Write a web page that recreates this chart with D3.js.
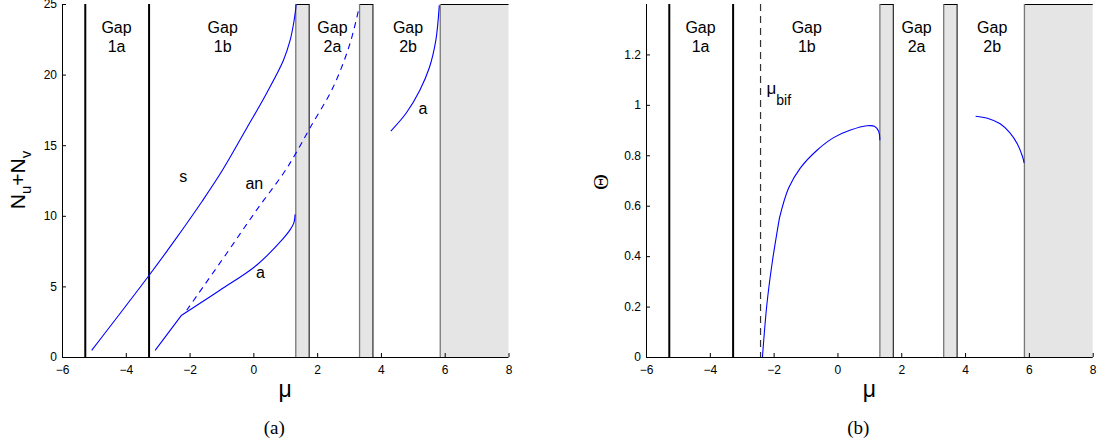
<!DOCTYPE html>
<html><head><meta charset="utf-8">
<script src="https://cdn.jsdelivr.net/npm/d3@7"></script>
<style>
body{margin:0;background:#fff}
text{font-family:"Liberation Sans",Arial,sans-serif;fill:#000}
</style></head>
<body><svg id="c" width="1099" height="444"></svg>
<script>
// ---------- data ----------
const xTicks = [-6,-4,-2,0,2,4,6,8];
const yTicksA = [0,5,10,15,20,25];
const yTicksB = [0,0.2,0.4,0.6,0.8,1,1.2];
const gapLines = [-5.27,-3.27];          // black boundaries of gaps 1a/1b
const bands = [[1.33,1.75],[3.33,3.75],[5.86,8]];   // shaded bands
const muBif = -2.41;
const gapNames = [["Gap","1a"],["Gap","1b"],["Gap","2a"],["Gap","2b"]];
const gapLabelMu = [-4.29,-0.96,2.48,4.85];

// panel (a): N_u+N_v vs mu
const muS  = [-5.07,-3.29,-2.5,-1.6,-0.99,-0.21,0.42,0.94,1.15,1.26,1.32,1.34];
const nS   = [0.47,5.72,8.15,11.05,13.15,16.2,18.7,21.0,22.4,23.6,24.5,24.95];
const muA  = [-3.08,-2.25,-1.05,0.10,0.94,1.15,1.27,1.31];
const nA   = [0.47,2.96,4.73,6.5,8.4,9.0,9.5,10.1];
const kinkA = 1;   // index of the corner on branch a
const muAN = [-2.09,-0.84,0.10,0.94,1.30,1.77,2.5,3.03,3.32];
const nAN  = [3.31,7.33,10.4,13.0,14.3,16.2,19.1,22.2,24.8];
const muA2 = [4.31,4.80,5.22,5.52,5.72,5.83];
const nA2  = [16.0,17.3,18.9,20.5,22.4,24.9];
const curveLabelsA = [{t:"s",mu:-2.2,v:12.4},{t:"an",mu:0.03,v:11.9},{t:"a",mu:0.22,v:5.6},{t:"a",mu:5.32,v:17.2}];

// panel (b): Theta vs mu
const muT  = [-2.35,-2.21,-2.05,-1.82,-1.53,-1.16,-0.64,-0.12,0.41,0.93,1.16,1.29,1.33];
const thT  = [0,0.21,0.37,0.55,0.67,0.75,0.82,0.87,0.90,0.917,0.915,0.895,0.86];
const kinkT = 3;
const muT2 = [4.33,4.7,5.1,5.4,5.64,5.8,5.85];
const thT2 = [0.955,0.947,0.925,0.89,0.845,0.795,0.77];

// ---------- drawing ----------
const svg = d3.select("#c");
const yTop = 4, yBot = 357;
const minus = s => String(s).replace("-", "\u2212");

function panel(x0, x1, yDom, yTicks) {
  const g = svg.append("g");
  const x = d3.scaleLinear().domain([-6,8]).range([x0,x1]);
  const y = d3.scaleLinear().domain(yDom).range([yBot,yTop]);
  bands.forEach(b => {
    g.append("rect").attr("x", x(b[0])).attr("y", yTop).attr("width", x(b[1])-x(b[0])).attr("height", yBot-yTop)
      .attr("fill","#e5e5e5");
    g.append("line").attr("x1",x(b[0])).attr("x2",x(b[1])).attr("y1",yTop+0.5).attr("y2",yTop+0.5).attr("stroke","#000");
    g.append("line").attr("x1",x(b[0])).attr("x2",x(b[0])).attr("y1",yTop).attr("y2",yBot).attr("stroke","#777").attr("stroke-width",1.3);
    if (b[1] < 8) g.append("line").attr("x1",x(b[1])).attr("x2",x(b[1])).attr("y1",yTop).attr("y2",yBot).attr("stroke","#000");
  });
  gapLines.forEach(m => g.append("line").attr("x1",x(m)).attr("x2",x(m)).attr("y1",yTop).attr("y2",yBot)
    .attr("stroke","#000").attr("stroke-width",2));
  const ax = g.append("g").attr("transform",`translate(0,${yBot})`)
    .call(d3.axisBottom(x).tickValues(xTicks).tickSizeInner(-4).tickSizeOuter(0).tickPadding(8).tickFormat(minus));
  const ay = g.append("g").attr("transform",`translate(${x0},0)`)
    .call(d3.axisLeft(y).tickValues(yTicks).tickSizeInner(-4).tickSizeOuter(0).tickPadding(5).tickFormat(d=>minus(d)));
  [ax,ay].forEach(a => {
    a.select(".domain").attr("stroke","#000");
    a.selectAll("text").attr("font-size",12).attr("font-family","Liberation Sans, Arial, sans-serif");
  });
  ay.select(".domain").attr("d",`M0.5,${yTop}V${yBot}`);
  ax.select(".domain").attr("d",`M${x0},0.5H${x1}`);
  gapNames.forEach((n,i) => {
    const t = g.append("text").attr("x",x(gapLabelMu[i])).attr("text-anchor","middle").attr("font-size",16);
    t.append("tspan").attr("x",x(gapLabelMu[i])).attr("y",33).text(n[0]);
    t.append("tspan").attr("x",x(gapLabelMu[i])).attr("y",52).text(n[1]);
  });
  return {g,x,y};
}

function curve(p, xs, ys, dash, kink) {
  const pts = xs.map((v,i)=>[v,ys[i]]);
  const parts = kink == null ? [pts] : [pts.slice(0,kink+1), pts.slice(kink)];
  const line = d3.line().x(d=>p.x(d[0])).y(d=>p.y(d[1])).curve(d3.curveCatmullRom.alpha(0.5));
  p.g.append("path").attr("d", parts.map(q=>line(q)).join(""))
    .attr("fill","none").attr("stroke","#0000ff").attr("stroke-width",1.1)
    .attr("stroke-dasharray", dash ? "6,5" : null);
}

const pA = panel(62, 508.5, [0,25], yTicksA);
curve(pA, muS, nS);
curve(pA, muA, nA, false, kinkA);
curve(pA, muAN, nAN, true);
curve(pA, muA2, nA2);
curveLabelsA.forEach(l => pA.g.append("text").attr("x",pA.x(l.mu)).attr("y",pA.y(l.v)).attr("text-anchor","middle")
  .attr("font-size",16).text(l.t));

const pB = panel(646, 1092.7, [0,1.4], yTicksB);
pB.g.append("line").attr("x1",pB.x(muBif)).attr("x2",pB.x(muBif)).attr("y1",yTop).attr("y2",yBot)
  .attr("stroke","#333").attr("stroke-width",1.2).attr("stroke-dasharray","7,5");
curve(pB, muT, thT, false, kinkT);
curve(pB, muT2, thT2);
const bif = pB.g.append("text").attr("x",pB.x(muBif)+6).attr("y",94);
bif.append("tspan").attr("font-size",17).text("\u03bc");
bif.append("tspan").attr("font-size",14).attr("dy",11).text("bif");

[[pA,"(a)"],[pB,"(b)"]].forEach(([p,lab]) => {
  const cx = p.x(1);
  svg.append("text").attr("x",cx).attr("y",397).attr("text-anchor","middle").attr("font-size",23).text("\u03bc");
  svg.append("text").attr("x",cx-11).attr("y",434).attr("text-anchor","middle")
    .attr("style","font-family:'Liberation Serif',serif").attr("font-size",19).text(lab);
});
const yl = svg.append("text").attr("transform","translate(25,180) rotate(-90)").attr("text-anchor","middle").attr("font-size",21);
yl.append("tspan").text("N");
yl.append("tspan").attr("font-size",15).attr("dy",6).text("u");
yl.append("tspan").attr("dy",-6).text("+N");
yl.append("tspan").attr("font-size",15).attr("dy",6).text("v");
svg.append("text").attr("transform","translate(608,182) rotate(-90)").attr("text-anchor","middle")
  .attr("style","font-family:'Liberation Serif',serif").attr("font-size",22).text("\u0398");
</script></body></html>
